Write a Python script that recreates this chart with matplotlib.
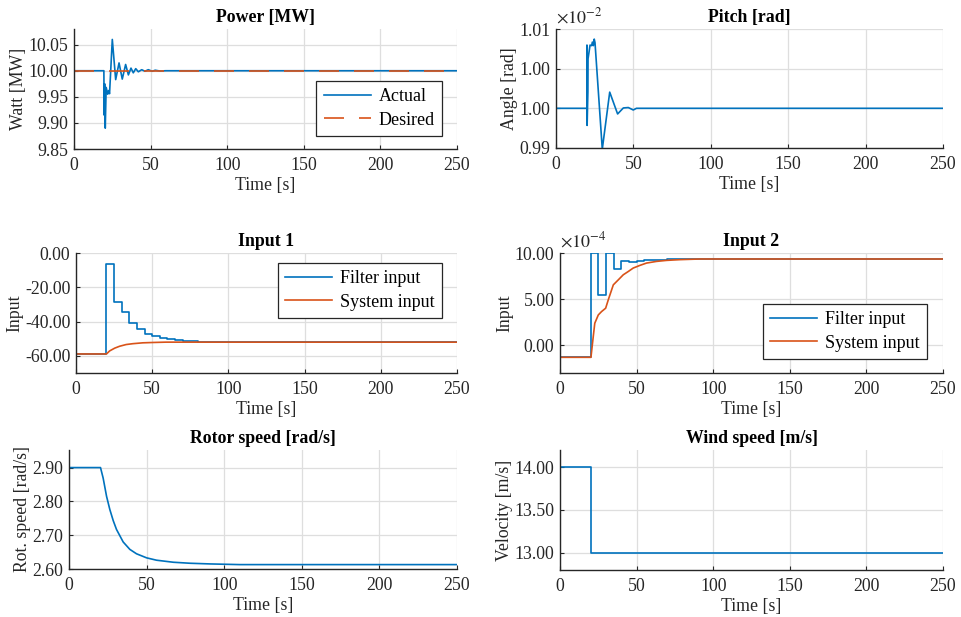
import matplotlib
matplotlib.use('Agg')
import matplotlib.pyplot as plt
from matplotlib.ticker import FormatStrFormatter

# MATLAB-like look
plt.rcParams['font.family'] = ['Liberation Serif', 'DejaVu Serif']
plt.rcParams['mathtext.fontset'] = 'stix'
plt.rcParams['axes.unicode_minus'] = False
plt.rcParams['font.size'] = 12

BLUE = '#0072BD'
ORANGE = '#D95319'

# Power [MW]
t_power = [0, 19.5, 19.7, 20.0, 20.4, 21.0, 22.0, 22.6, 23.2, 25.0, 27.2, 29.4, 31.5,
           33.7, 35.5, 37.2, 38.7, 40.3, 42.0, 44.2, 46.3, 48.5, 51.0, 53.0, 56.0, 60.0, 250]
power_actual = [10.0, 10.0, 9.915, 9.975, 9.890, 9.968, 9.955, 9.962, 9.956, 10.060, 9.983,
                10.015, 9.984, 10.012, 9.992, 10.005, 9.996, 10.004, 9.998, 10.002, 9.999,
                10.002, 9.999, 10.001, 9.9995, 10.0, 10.0]
t_desired = [0, 250]
power_desired = [10.0, 10.0]

# Pitch [rad], in units of 1e-2
t_pitch = [0, 19.95, 20.0, 20.1, 20.6, 20.7, 22.0, 23.0, 23.5, 24.1, 24.7, 25.2,
           29.9, 34.7, 39.8, 43.5, 46.7, 49.9, 52.0, 250]
pitch = [0.99667, 0.99667, 1.0073, 0.9938, 0.9994, 1.0050, 1.0073, 1.0072, 1.0078, 1.0072,
         1.0083, 1.0077, 0.9898, 0.99939, 0.99572, 0.99673, 0.99680, 0.99639, 0.99667, 0.99667]

# Input 1
t_filt1 = [0, 20, 25, 30, 35, 40, 45, 50, 55, 60, 65, 70, 75, 80, 85, 250]
filt1 = [-58.9, -6.2, -28.3, -34.7, -40.9, -44.2, -47.2, -48.7, -49.7, -50.3, -50.9,
         -51.3, -51.6, -51.8, -52.0, -52.0]
t_sys1 = [0, 20, 22.1, 25.4, 28.6, 32.9, 37.3, 43.8, 50.4, 59, 70, 250]
sys1 = [-58.9, -58.9, -57.1, -55.5, -54.4, -53.4, -52.9, -52.4, -52.2, -52.0, -52.0, -52.0]

# Input 2, in units of 1e-4
t_filt2 = [0, 20, 25, 30, 35, 40, 45, 50, 55, 60, 65, 70, 75, 80, 250]
filt2 = [-1.30, 10.0, 5.45, 10.0, 8.30, 9.10, 9.02, 9.16, 9.21, 9.25, 9.28, 9.31, 9.33, 9.35, 9.35]
t_sys2 = [0, 20.2, 21.7, 22.7, 25, 27.1, 29.8, 31.5, 34.8, 38.1, 41.3, 44.6, 47.8, 52.2,
          56.5, 63, 69.6, 78.3, 91.3, 250]
sys2 = [-1.30, -1.30, 0.94, 2.39, 3.29, 3.65, 4.02, 4.92, 6.55, 7.10, 7.64, 8.00, 8.37,
        8.66, 8.91, 9.09, 9.20, 9.28, 9.35, 9.35]

# Rotor speed [rad/s]
t_rotor = [0, 20.3, 22.0, 24.2, 26.3, 28.5, 30.6, 34.9, 39.2, 43.5, 50, 56.4, 67.2, 78,
           90.9, 110, 250]
rotor = [2.90, 2.90, 2.869, 2.815, 2.776, 2.743, 2.717, 2.680, 2.658, 2.645, 2.633, 2.626,
         2.620, 2.617, 2.615, 2.613, 2.613]

# Wind speed [m/s]
t_wind = [0, 20, 250]
wind = [14.0, 13.0, 13.0]

xticks = [0, 50, 100, 150, 200, 250]

W, H = 961, 617


def add_axes_px(fig, x0, y0, x1, y1):
    # pixel box (top-left origin) -> figure fraction
    return fig.add_axes([x0 / W, 1 - y1 / H, (x1 - x0) / W, (y1 - y0) / H])


def style_axes(ax, title, ylabel, ylim, yticks):
    ax.set_xlim(0, 250)
    ax.set_xticks(xticks)
    ax.set_ylim(*ylim)
    ax.set_yticks(yticks)
    ax.yaxis.set_major_formatter(FormatStrFormatter('%.2f'))
    ax.grid(True, color='#dedede', linewidth=0.9)
    ax.set_axisbelow(True)
    for s in ['top', 'right']:
        ax.spines[s].set_visible(False)
    for s in ['left', 'bottom']:
        ax.spines[s].set_color('#262626')
        ax.spines[s].set_linewidth(1.0)
    ax.tick_params(direction='in', length=3, width=0.8, colors='#262626',
                   labelsize=12.8)
    ax.tick_params(axis='x', pad=6)
    ax.tick_params(axis='y', pad=4)
    ax.set_title(title, fontweight='bold', fontsize=12.8, pad=5)
    ax.set_xlabel('Time [s]', fontsize=12.8, color='#262626', labelpad=2)
    ax.set_ylabel(ylabel, fontsize=12.8, color='#262626', labelpad=1)


def add_legend(ax, loc, anchor):
    leg = ax.legend(loc=loc, bbox_to_anchor=anchor, borderaxespad=0,
                    fancybox=False, framealpha=1, fontsize=13, handlelength=2.6,
                    borderpad=0.4, labelspacing=0.35, handletextpad=0.45)
    leg.get_frame().set_edgecolor('#262626')
    leg.get_frame().set_linewidth(0.9)
    leg.get_frame().set_boxstyle('square', pad=0)
    return leg


fig = plt.figure(figsize=(W / 100, H / 100), dpi=100)

# Power
ax = add_axes_px(fig, 74, 29, 457, 149)
ax.plot(t_power, power_actual, color=BLUE, lw=1.2, label='Actual')
ax.plot(t_desired, power_desired, color=ORANGE, lw=1.2, dashes=(12, 9), label='Desired')
style_axes(ax, 'Power [MW]', 'Watt [MW]', (9.85, 10.08), [9.85, 9.90, 9.95, 10.00, 10.05])
add_legend(ax, 'lower right', (0.961, 0.108))

# Pitch
ax = add_axes_px(fig, 556, 29, 943, 148)
ax.plot(t_pitch, pitch, color=BLUE, lw=1.2)
style_axes(ax, 'Pitch [rad]', 'Angle [rad]', (0.99, 1.01),
           [0.99, 0.99 + 0.02 / 3, 0.99 + 0.04 / 3, 1.01])
ax.text(0.0, 1.02, r'$\times10^{-2}$', transform=ax.transAxes, fontsize=13,
        ha='left', va='bottom', color='#262626')

# Input 1
ax = add_axes_px(fig, 76, 253, 457, 373)
ax.plot(t_filt1, filt1, color=BLUE, lw=1.2, drawstyle='steps-post', label='Filter input')
ax.plot(t_sys1, sys1, color=ORANGE, lw=1.2, label='System input')
style_axes(ax, 'Input 1', 'Input', (-70, 0), [-60, -40, -20, 0])
add_legend(ax, 'upper right', (0.961, 0.917))

# Input 2
ax = add_axes_px(fig, 560, 253, 943, 373)
ax.plot(t_filt2, filt2, color=BLUE, lw=1.2, drawstyle='steps-post', label='Filter input')
ax.plot(t_sys2, sys2, color=ORANGE, lw=1.2, label='System input')
style_axes(ax, 'Input 2', 'Input', (-3, 10), [0, 5, 10])
ax.text(0.0, 1.02, r'$\times10^{-4}$', transform=ax.transAxes, fontsize=13,
        ha='left', va='bottom', color='#262626')
add_legend(ax, 'lower right', (0.958, 0.117))

# Rotor speed
ax = add_axes_px(fig, 69, 450, 457, 569)
ax.plot(t_rotor, rotor, color=BLUE, lw=1.2)
style_axes(ax, 'Rotor speed [rad/s]', 'Rot. speed [rad/s]', (2.60, 2.952),
           [2.60, 2.70, 2.80, 2.90])

# Wind speed
ax = add_axes_px(fig, 560, 450, 943, 570)
ax.plot(t_wind, wind, color=BLUE, lw=1.2, drawstyle='steps-post')
style_axes(ax, 'Wind speed [m/s]', 'Velocity [m/s]', (12.8, 14.2), [13.0, 13.5, 14.0])

fig.savefig('out.png', dpi=100)
